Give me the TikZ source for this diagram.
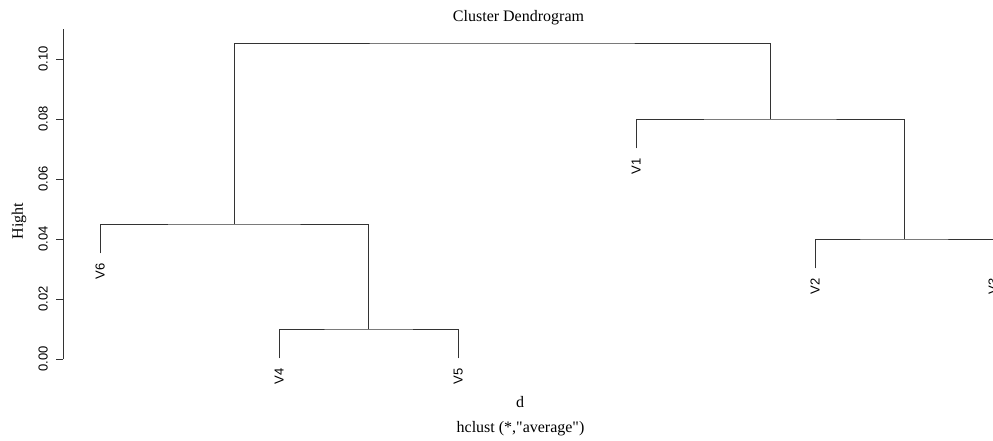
\documentclass[tikz,border=0pt]{standalone}
\usepackage{fontspec}
\newfontfamily\serifR{Liberation Serif}
\newfontfamily\sansR{Liberation Sans}
\begin{document}
\begin{tikzpicture}[x=1pt,y=-1pt,
  tree/.style={line width=0.9pt,black!80,line cap=rect},
  axisline/.style={line width=0.9pt,black!80},
  ticklab/.style={rotate=90,anchor=base,inner sep=0pt,font=\sansR\fontsize{13}{15}\selectfont},
  leaflab/.style={rotate=90,anchor=base east,inner sep=0pt,font=\sansR\fontsize{13}{15}\selectfont},
  titletext/.style={anchor=base,inner sep=0pt,font=\serifR\fontsize{16}{19}\selectfont}]
\useasboundingbox (0,0) rectangle (993,440);
\clip (0,0) rectangle (993,440);
% title and axis labels
\node[titletext] (title) at (518.5,21) {Cluster Dendrogram};
\node[titletext] (xlab) at (520,407) {d};
\node[titletext] (sub) at (520.5,432) {hclust (*,"average")};
\node[titletext,rotate=90] (ylab) at (23,221) {Hight};
% y axis
\coordinate (axtop) at (63,29);
\coordinate (axbot) at (63,359);
\draw[axisline] (axtop) -- (axbot);
\foreach \v/\lab in {0/0.00,1/0.02,2/0.04,3/0.06,4/0.08,5/0.10}{
  \coordinate (t\v) at (63,{359-60*\v});
  \coordinate (tl\v) at (56,{359-60*\v});
  \draw[axisline] (t\v) -- (tl\v);
  \node[ticklab] (tick\v) at (47.5,{359-60*\v}) {\lab};
}
% leaves (bottom ends)
\coordinate (v6) at (100,253);
\coordinate (v4) at (279,358);
\coordinate (v5) at (458,358);
\coordinate (v1) at (636,148);
\coordinate (v2) at (815,268);
\coordinate (v3) at (993.5,268);
% merges
\coordinate (m45) at (368.5,329);
\coordinate (m6) at (234,224);
\coordinate (m23) at (904,239);
\coordinate (m1) at (770,119);
\coordinate (top) at (502,43);
% tree
\draw[tree] (v4) |- (m45) -| (v5);
\draw[tree] (v6) |- (m6) -| (m45);
\draw[tree] (v2) |- (m23) -| (v3);
\draw[tree] (v1) |- (m1) -| (m23);
\draw[tree] (m6) |- (top) -| (m1);
% leaf labels
\node[leaflab] (lv6) at (104.5,263) {V6};
\node[leaflab] (lv4) at (283.5,368) {V4};
\node[leaflab] (lv5) at (462.5,368) {V5};
\node[leaflab] (lv1) at (640.5,158) {V1};
\node[leaflab] (lv2) at (819.5,278) {V2};
\node[leaflab] (lv3) at (997.5,278) {V3};
\end{tikzpicture}
\end{document}
